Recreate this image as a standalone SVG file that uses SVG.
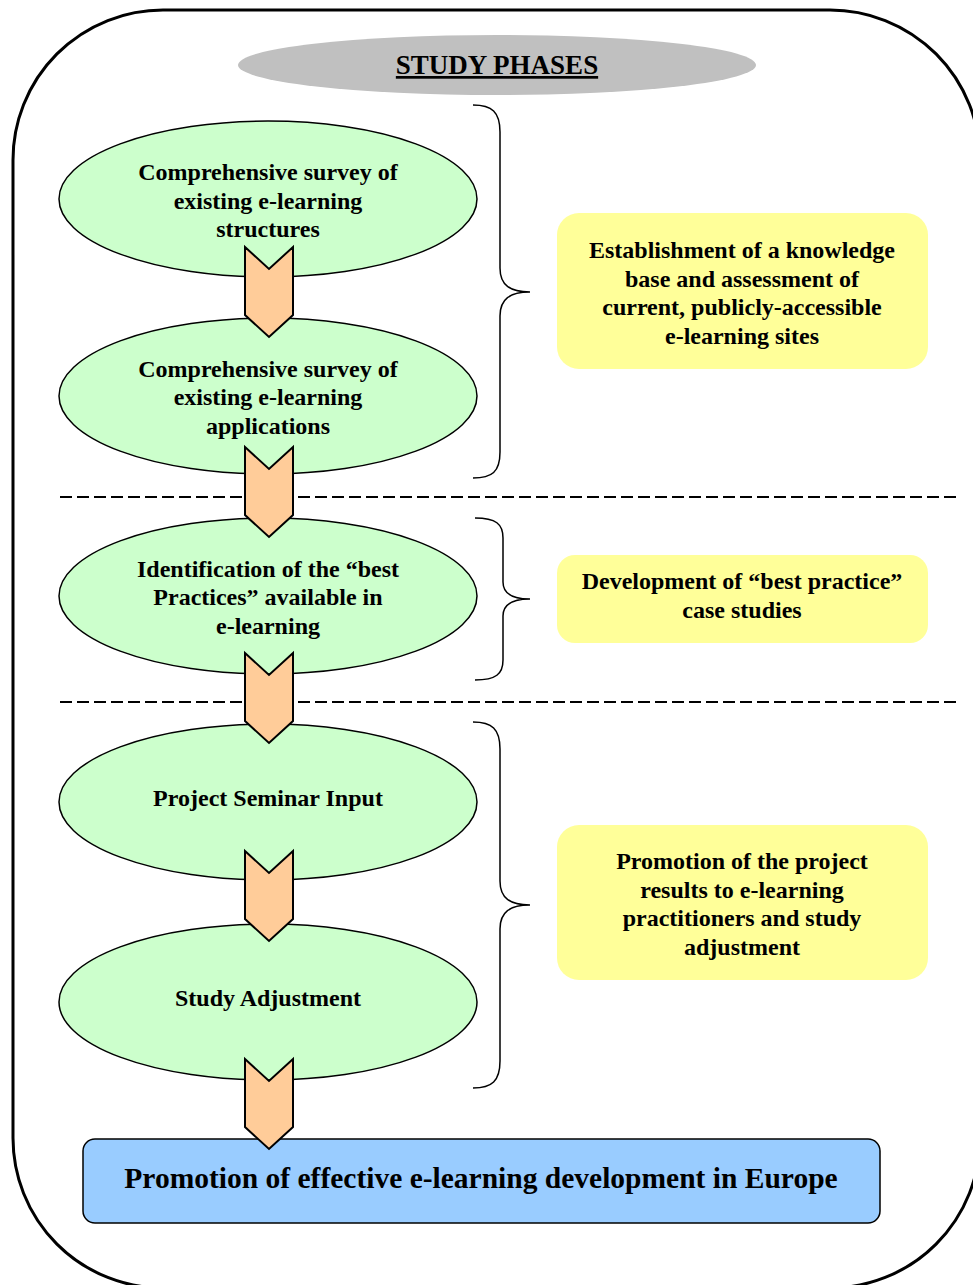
<svg xmlns="http://www.w3.org/2000/svg" width="973" height="1285" viewBox="0 0 973 1285">
<style>
text{font-family:"Liberation Serif","Times New Roman",serif;font-weight:bold;fill:#000;text-anchor:middle}
.t{font-size:24px}
.phase{fill:#ccffcc;stroke:#000;stroke-width:1.5}
.arrow{fill:#ffcc99;stroke:#000;stroke-width:2;stroke-linejoin:miter}
.result{fill:#ffff99;stroke:none}
.brace{fill:none;stroke:#000;stroke-width:1.5}
.dash{stroke:#000;stroke-width:1.8;stroke-dasharray:12 5}
</style>
<defs>
<path id="chev" d="M0,0 L24,22 L48,0 L48,68 L24,90 L0,68 Z"/>
</defs>
<rect id="frame" x="13" y="10" width="967" height="1278" rx="150" ry="150" fill="#fff" stroke="#000" stroke-width="3"/>
<g id="header">
<ellipse cx="497" cy="65" rx="259" ry="30" fill="#c0c0c0"/>
<text x="497" y="74" style="font-size:27px;text-decoration:underline">STUDY PHASES</text>
</g>
<g id="separators">
<line class="dash" x1="60" y1="497" x2="956" y2="497"/>
<line class="dash" x1="60" y1="702" x2="956" y2="702"/>
</g>
<g id="phase1">
<ellipse class="phase" cx="268" cy="199" rx="209" ry="78"/>
<text class="t" x="268" y="180">Comprehensive survey of</text>
<text class="t" x="268" y="209">existing e-learning</text>
<text class="t" x="268" y="237">structures</text>
</g>
<g id="phase2">
<ellipse class="phase" cx="268" cy="396" rx="209" ry="78"/>
<text class="t" x="268" y="377">Comprehensive survey of</text>
<text class="t" x="268" y="405">existing e-learning</text>
<text class="t" x="268" y="434">applications</text>
</g>
<g id="phase3">
<ellipse class="phase" cx="268" cy="596" rx="209" ry="78"/>
<text class="t" x="268" y="577">Identification of the “best</text>
<text class="t" x="268" y="605">Practices” available in</text>
<text class="t" x="268" y="634">e-learning</text>
</g>
<g id="phase4">
<ellipse class="phase" cx="268" cy="802" rx="209" ry="78"/>
<text class="t" x="268" y="806">Project Seminar Input</text>
</g>
<g id="phase5">
<ellipse class="phase" cx="268" cy="1002" rx="209" ry="78"/>
<text class="t" x="268" y="1006">Study Adjustment</text>
</g>
<g id="outcome">
<rect x="83" y="1139" width="797" height="84" rx="12" ry="12" fill="#99ccff" stroke="#000" stroke-width="1.5"/>
<text x="481" y="1188" style="font-size:29.5px">Promotion of effective e-learning development in Europe</text>
</g>
<g id="connectors">
<use href="#chev" class="arrow" x="245" y="247"/>
<use href="#chev" class="arrow" x="245" y="447"/>
<use href="#chev" class="arrow" x="245" y="653"/>
<use href="#chev" class="arrow" x="245" y="851"/>
<use href="#chev" class="arrow" x="245" y="1059"/>
<path class="brace" d="M473,105 C492,105 500,112 500,132 L500,268 C500,285 510,292 530,292 C510,292 500,299 500,316 L500,452 C500,472 492,478 473,478"/>
<path class="brace" d="M475,518 C496,518 503,524 503,538 L503,582 C503,593 512,599 530,599 C512,599 503,605 503,616 L503,660 C503,674 496,680 475,680"/>
<path class="brace" d="M473,722 C492,722 500,729 500,749 L500,881 C500,898 510,905 530,905 C510,905 500,912 500,929 L500,1061 C500,1081 492,1088 473,1088"/>
</g>
<g id="result1">
<rect class="result" x="557" y="213" width="371" height="156" rx="22" ry="22"/>
<text class="t" x="742" y="258">Establishment of a knowledge</text>
<text class="t" x="742" y="287">base and assessment of</text>
<text class="t" x="742" y="315">current, publicly-accessible</text>
<text class="t" x="742" y="344">e-learning sites</text>
</g>
<g id="result2">
<rect class="result" x="557" y="555" width="371" height="88" rx="18" ry="18"/>
<text class="t" x="742" y="589">Development of “best practice”</text>
<text class="t" x="742" y="618">case studies</text>
</g>
<g id="result3">
<rect class="result" x="557" y="825" width="371" height="155" rx="22" ry="22"/>
<text class="t" x="742" y="869">Promotion of the project</text>
<text class="t" x="742" y="898">results to e-learning</text>
<text class="t" x="742" y="926">practitioners and study</text>
<text class="t" x="742" y="955">adjustment</text>
</g>
</svg>
